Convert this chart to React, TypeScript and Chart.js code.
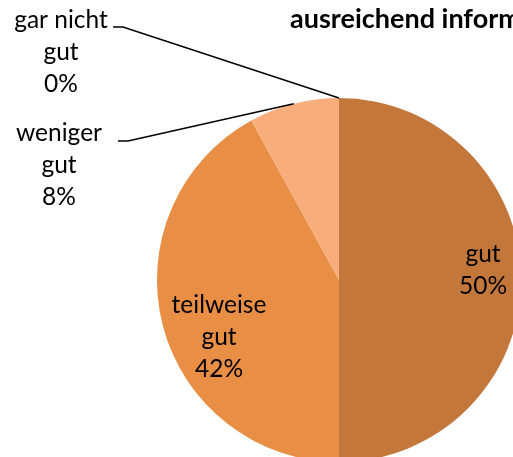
import React, { useEffect, useRef } from "react";
import { Chart, registerables } from "chart.js";

Chart.register(...registerables);

const categories = ["gut", "teilweise gut", "weniger gut", "gar nicht gut"];
const values = [50, 42, 8, 0];
const labelLines = [["gut", "50%"], ["teilweise", "gut", "42%"], ["weniger", "gut", "8%"], ["gar nicht", "gut", "0%"]];
const titleLine = "ausreichend informiert?";

const colors = ["#C4773A", "#E88E45", "#F7AD7C", "#F2A46A"];
// label block: center x, first baseline, outside flag, leader start
const labelStyle = [
  { x: 483, y: 262, outside: false, lx: 0, ly: 0 },
  { x: 219, y: 313, outside: false, lx: 0, ly: 0 },
  { x: 59, y: 141, outside: true, lx: 118, ly: 141 },
  { x: 61, y: 28, outside: true, lx: 113, ly: 27 },
];
const FONT = "Lato, 'Open Sans', sans-serif";
const LINE_PITCH = 32;

const labelPlugin = {
  id: "pieLabels",
  afterDraw(chart: any) {
    const ctx = chart.ctx;
    const meta = chart.getDatasetMeta(0);
    ctx.save();
    ctx.fillStyle = "#000";
    ctx.font = `bold 27px ${FONT}`;
    ctx.textAlign = "left";
    ctx.textBaseline = "alphabetic";
    ctx.fillText(titleLine, 290, 28);

    ctx.font = `24.5px ${FONT}`;
    ctx.textAlign = "center";
    meta.data.forEach((arc: any, i: number) => {
      const st = labelStyle[i];
      const lines = labelLines[i];
      lines.forEach((t, k) => {
        ctx.fillText(t, st.x, st.y + k * LINE_PITCH);
      });
      if (st.outside) {
        const p = arc.getProps(["x", "y", "startAngle", "endAngle", "outerRadius"], true);
        const mid = (p.startAngle + p.endAngle) / 2;
        const tx = p.x + Math.cos(mid) * p.outerRadius;
        const ty = p.y + Math.sin(mid) * p.outerRadius;
        ctx.strokeStyle = "#000";
        ctx.lineWidth = 1.5;
        ctx.beginPath();
        ctx.moveTo(st.lx, st.ly);
        ctx.lineTo(st.lx + 10, st.ly);
        ctx.lineTo(tx, ty);
        ctx.stroke();
      }
    });
    ctx.restore();
  },
};

export default function App() {
  const ref = useRef<HTMLCanvasElement>(null);
  useEffect(() => {
    if (!ref.current) return;
    const chart = new Chart(ref.current, {
      type: "pie",
      data: {
        labels: categories,
        datasets: [
          {
            data: values,
            backgroundColor: colors,
            borderWidth: 0,
          },
        ],
      },
      options: {
        responsive: false,
        animation: false,
        layout: { padding: { left: 157, top: 98, right: 39, bottom: 18 } },
        plugins: { legend: { display: false }, tooltip: { enabled: false }, title: { display: false } },
      },
      plugins: [labelPlugin],
    });
    return () => chart.destroy();
  }, []);
  return (
    <div style={{ position: "fixed", left: 0, top: 0, width: 513, height: 457, overflow: "hidden", background: "#fff" }}>
      <canvas ref={ref} width={560} height={480} style={{ display: "block" }} />
    </div>
  );
}
